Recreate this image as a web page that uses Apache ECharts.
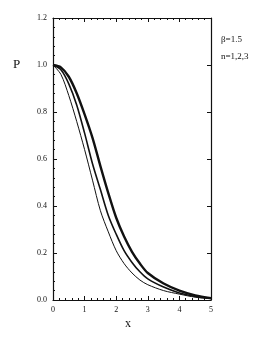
<!DOCTYPE html>
<html><head><meta charset="utf-8">
<script src="https://cdn.jsdelivr.net/npm/echarts@6/dist/echarts.min.js"></script>
<style>html,body{margin:0;padding:0;background:#fff}#c{width:273px;height:340px}</style>
</head><body><div id="c"></div>
<script>
const xs = [0,0.25,0.5,0.75,1.0,1.25,1.5,1.75,2.0,2.25,2.5,2.75,3.0,3.5,4.0,4.5,5.0];
const curveN1 = [1.0,0.96,0.87,0.76,0.64,0.51,0.38,0.29,0.21,0.155,0.115,0.085,0.065,0.04,0.025,0.012,0.005];
const curveN2 = [1.0,0.98,0.92,0.83,0.71,0.58,0.47,0.36,0.28,0.21,0.16,0.12,0.09,0.055,0.03,0.015,0.007];
const curveN3 = [1.0,0.99,0.95,0.88,0.79,0.69,0.57,0.455,0.35,0.27,0.205,0.155,0.115,0.07,0.04,0.02,0.008];
const yTickLabels = ['0.0','0.2','0.4','0.6','0.8','1.0','1.2'];
const xTickLabels = ['0','1','2','3','4','5'];

const chart = echarts.init(document.getElementById('c'));
const pairs = a => xs.map((x,i)=>[x,a[i]]);
const lbl = {fontFamily:'Liberation Serif',fontSize:8,color:'#111'};
const axisCommon = () => ({
  axisLine:{show:true,onZero:false,lineStyle:{color:'#111',width:1.2}},
  axisTick:{show:true,inside:true,length:4,lineStyle:{color:'#111'}},
  minorTick:{show:true,splitNumber:5,length:2,lineStyle:{color:'#111'}},
  splitLine:{show:false}
});
chart.setOption({
  animation:false,
  grid:{left:53,right:62,top:18,bottom:40},
  xAxis:[
    Object.assign(axisCommon(),{type:'value',min:0,max:5,interval:1,position:'bottom',
      axisLabel:Object.assign({margin:6,formatter:v=>xTickLabels[Math.round(v)]},lbl)}),
    Object.assign(axisCommon(),{type:'value',min:0,max:5,interval:1,position:'top',axisLabel:{show:false}})
  ],
  yAxis:[
    Object.assign(axisCommon(),{type:'value',min:0,max:1.2,interval:0.2,position:'left',
      axisLabel:Object.assign({margin:6,formatter:v=>yTickLabels[Math.round(v/0.2)]},lbl)}),
    Object.assign(axisCommon(),{type:'value',min:0,max:1.2,interval:0.2,position:'right',axisLabel:{show:false},minorTick:{show:false}})
  ],
  series:[
    {type:'line',data:pairs(curveN1),smooth:0.3,showSymbol:false,lineStyle:{color:'#111',width:1}},
    {type:'line',data:pairs(curveN2),smooth:0.3,showSymbol:false,lineStyle:{color:'#111',width:1.6}},
    {type:'line',data:pairs(curveN3),smooth:0.3,showSymbol:false,lineStyle:{color:'#111',width:2.4}}
  ],
  graphic:[
    {type:'text',left:13,top:58,style:{text:'P',font:'13px "Liberation Serif"',fill:'#111'}},
    {type:'text',left:125,top:318,style:{text:'x',font:'12px "Liberation Serif"',fill:'#111'}},
    {type:'text',left:221,top:35,style:{text:'β=1.5',font:'9px "Liberation Serif"',fill:'#111'}},
    {type:'text',left:221,top:52,style:{text:'n=1,2,3',font:'9px "Liberation Serif"',fill:'#111'}}
  ]
});
</script></body></html>
